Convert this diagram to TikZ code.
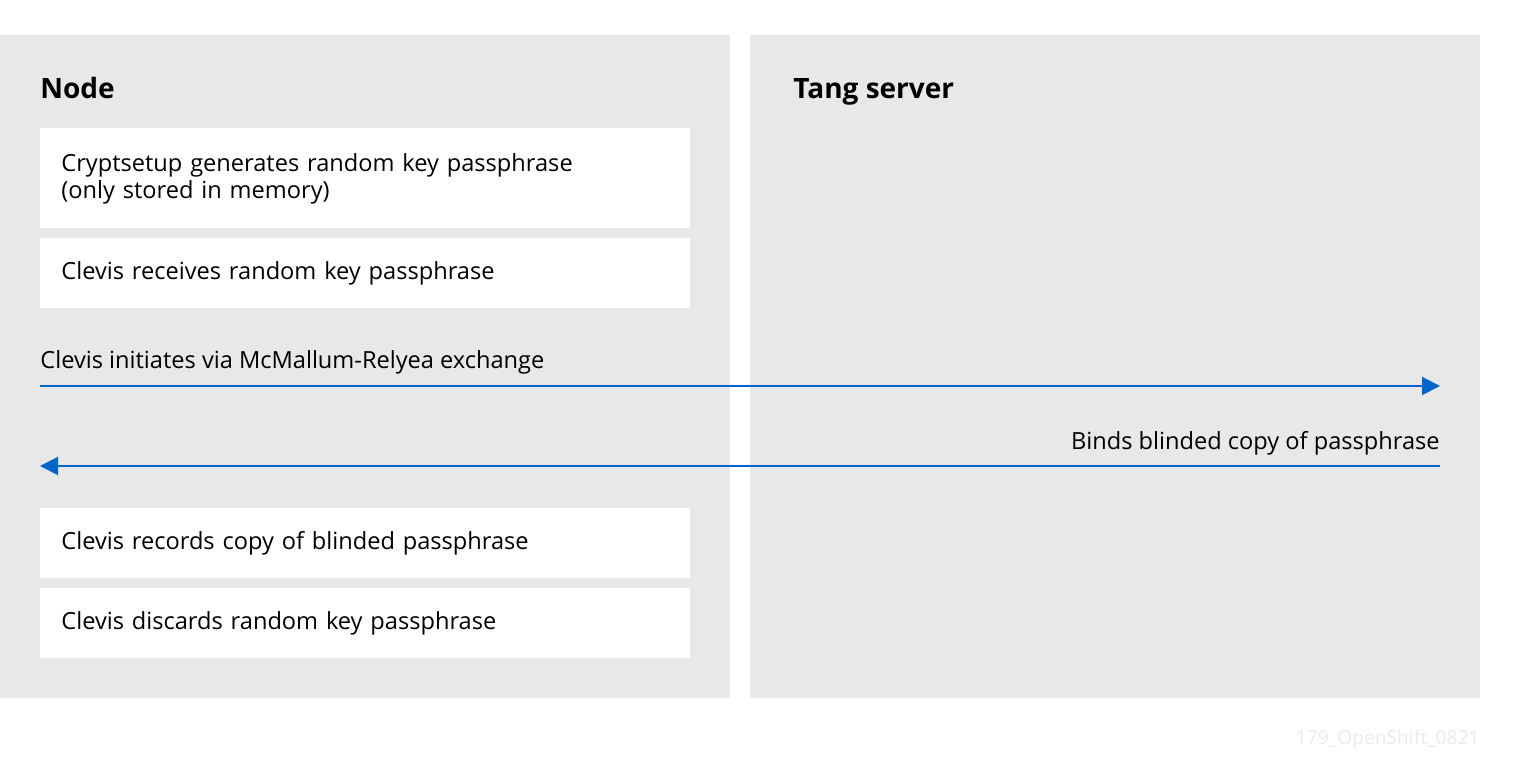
\documentclass[tikz,border=0pt]{standalone}
\usepackage{fontspec}
\setmainfont{Open Sans}
\usetikzlibrary{arrows.meta}
\definecolor{panelgray}{HTML}{E8E8E8}
\definecolor{arrowblue}{HTML}{0066CC}
\definecolor{marklight}{HTML}{EBEBEB}
\newcommand\U{0.5pt}

\begin{document}
\begin{tikzpicture}[x=\U, y=-\U,
  panel/.style={fill=panelgray},
  title/.style={anchor=base west, inner sep=0pt, font=\fontsize{14}{16}\selectfont\bfseries},
  stepbox/.style={anchor=north west, fill=white, inner xsep=10.5pt, inner ysep=0pt,
    text width=304pt, minimum height=35pt, align=left,
    font=\fontsize{11.8}{13.5}\selectfont},
  msg/.style={inner sep=0pt, font=\fontsize{11.8}{13.5}\selectfont},
  flow/.style={draw=arrowblue, line width=1pt, -{Triangle[length=9pt,width=9pt]}, color=arrowblue}
]

  \useasboundingbox[fill=white] (0,0) rectangle (1520,779);

  %% panels
  \fill[panel] (0,35) rectangle (730,698);
  \fill[panel] (750,35) rectangle (1480,698);

  \node[title] (nodehead) at (40,99) {Node};
  \node[title] (tanghead) at (793,99) {Tang server};

  %% node side steps
  \node[stepbox, minimum height=50pt] (gen) at (40,128)
    {Cryptsetup generates random key passphrase\\(only stored in memory)};
  \node[stepbox] (recv) at (40,238) {Clevis receives random key passphrase};
  \node[stepbox] (rec) at (40,508) {Clevis records copy of blinded passphrase};
  \node[stepbox] (disc) at (40,588) {Clevis discards random key passphrase};

  %% exchange
  \coordinate (ileft) at (40,386);
  \coordinate (iright) at (1440,386);
  \coordinate (bright) at (1440,466);
  \coordinate (bleft) at (40,466);

  \node[msg, anchor=base west] (init) at (40,369) {Clevis initiates via McMallum-Relyea exchange};
  \node[msg, anchor=base east] (bind) at (1440,450) {Binds blinded copy of passphrase};

  \draw[flow] (ileft) -- (iright);
  \draw[flow] (bright) -- (bleft);

  \node[anchor=base east, inner sep=0pt, text=marklight, font=\fontsize{9.6}{12}\selectfont] (mark) at (1480,745) {179\_OpenShift\_0821};

\end{tikzpicture}
\end{document}
